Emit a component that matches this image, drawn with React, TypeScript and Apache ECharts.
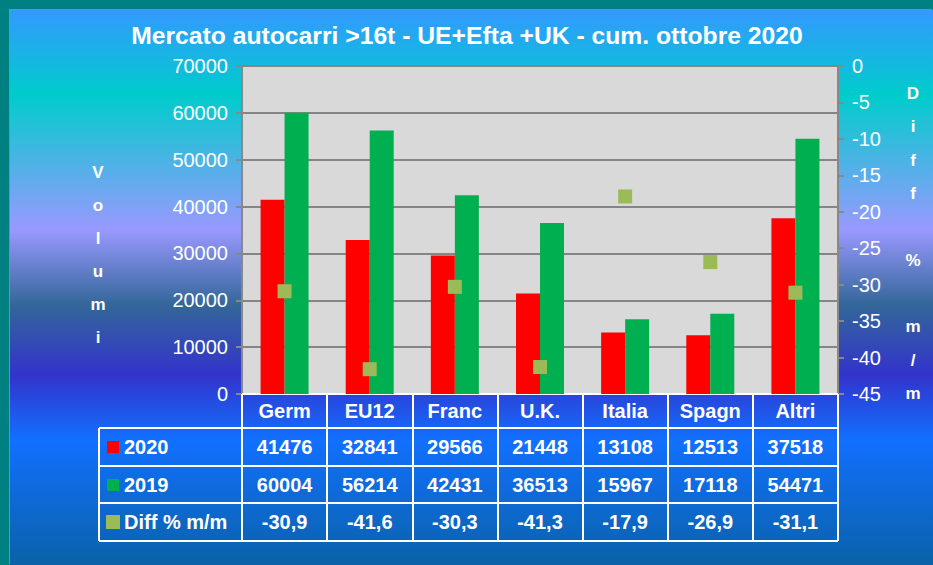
import React, { useEffect, useRef } from "react";
import * as echarts from "echarts";

const categories = ["Germ", "EU12", "Franc", "U.K.", "Italia", "Spagn", "Altri"];
const vol2020 = [41476, 32841, 29566, 21448, 13108, 12513, 37518];
const vol2019 = [60004, 56214, 42431, 36513, 15967, 17118, 54471];
const diffPct = [-30.9, -41.6, -30.3, -41.3, -17.9, -26.9, -31.1];
const seriesNames = ["2020", "2019", "Diff % m/m"];
const seriesColors = ["#ff0000", "#00b050", "#9bbb59"];

const W = 923;
const H = 555;
const GL = 232;
const GR = 95;
const GT = 56;
const GB = 171;
const FONT = "'Liberation Sans', Arial, sans-serif";

export default function App() {
  const ref = useRef<HTMLDivElement>(null);
  useEffect(() => {
    if (!ref.current) return;
    const chart = echarts.init(ref.current, null, { renderer: "svg" });
    const plotW = W - GL - GR;
    const cw = plotW / categories.length;
    const axisY = H - GB;
    const rowLines = [418, 456, 493, 531];
    const rowCenters = [437, 475, 512];
    const tableLeft = 89;
    const tableRight = W - GR;
    const fmt = [
      (v: number) => String(v),
      (v: number) => String(v),
      (v: number) => v.toFixed(1).replace(".", ","),
    ];
    const rows = [vol2020, vol2019, diffPct];

    const graphics: any[] = [];
    rowLines.forEach((y) => {
      graphics.push({
        type: "line",
        shape: { x1: tableLeft, y1: y, x2: tableRight, y2: y },
        style: { stroke: "#ffffff", lineWidth: 2 },
      });
    });
    graphics.push({
      type: "line",
      shape: { x1: tableLeft, y1: rowLines[0], x2: tableLeft, y2: rowLines[3] },
      style: { stroke: "#ffffff", lineWidth: 2 },
    });
    rows.forEach((arr, r) => {
      const sz = r === 2 ? 14 : 12;
      graphics.push({
        type: "rect",
        shape: { x: 97 + (r === 2 ? -1 : 0), y: rowCenters[r] - sz / 2, width: sz, height: sz },
        style: { fill: seriesColors[r] },
      });
      graphics.push({
        type: "text",
        x: 114,
        y: rowCenters[r],
        style: {
          text: seriesNames[r],
          fill: "#ffffff",
          font: `bold 20px ${FONT}`,
          textAlign: "left",
          textVerticalAlign: "middle",
        },
      });
      arr.forEach((v, i) => {
        graphics.push({
          type: "text",
          x: GL + (i + 0.5) * cw,
          y: rowCenters[r],
          style: {
            text: fmt[r](v),
            fill: "#ffffff",
            font: `bold 20px ${FONT}`,
            textAlign: "center",
            textVerticalAlign: "middle",
          },
        });
      });
    });
    graphics.push({
      type: "text",
      x: 88,
      y: 146,
      style: {
        text: "V\no\nl\nu\nm\ni",
        fill: "#ffffff",
        font: `bold 17px ${FONT}`,
        lineHeight: 33,
        textAlign: "center",
        textVerticalAlign: "top",
      },
    });
    graphics.push({
      type: "text",
      x: 903,
      y: 67,
      style: {
        text: "D\ni\nf\nf\n \n%\n \nm\n/\nm",
        fill: "#ffffff",
        font: `bold 17px ${FONT}`,
        lineHeight: 33.3,
        textAlign: "center",
        textVerticalAlign: "top",
      },
    });

    chart.setOption({
      animation: false,
      backgroundColor: "transparent",
      textStyle: { fontFamily: FONT },
      title: {
        text: "Mercato autocarri >16t - UE+Efta +UK - cum. ottobre 2020",
        left: 452,
        top: 8,
        textAlign: "center",
        textStyle: { color: "#ffffff", fontSize: 24.7, fontWeight: "bold", fontFamily: FONT },
      },
      grid: { left: GL, right: GR, top: GT, bottom: GB, show: true, backgroundColor: "#d9d9d9", borderWidth: 0 },
      xAxis: {
        type: "category",
        data: categories,
        boundaryGap: true,
        axisLine: { show: true, lineStyle: { color: "#ffffff", width: 2 } },
        axisTick: { show: true, length: rowLines[3] - axisY, lineStyle: { color: "#ffffff", width: 2 } },
        axisLabel: { color: "#ffffff", fontWeight: "bold", fontSize: 20, margin: 7, fontFamily: FONT },
        splitLine: { show: false },
      },
      yAxis: [
        {
          type: "value",
          min: 0,
          max: 70000,
          interval: 10000,
          axisLine: { show: true, lineStyle: { color: "#888888", width: 2 } },
          axisTick: { show: true, length: 6, lineStyle: { color: "#888888", width: 2 } },
          axisLabel: {
            color: "#ffffff",
            fontSize: 20,
            margin: 14,
            fontFamily: FONT,
            formatter: (v: number) => String(v),
          },
          splitLine: { show: true, lineStyle: { color: "#858585", width: 2 } },
        },
        {
          type: "value",
          min: -45,
          max: 0,
          interval: 5,
          position: "right",
          axisLine: { show: true, lineStyle: { color: "#888888", width: 2 } },
          axisTick: { show: true, length: 6, lineStyle: { color: "#888888", width: 2 } },
          axisLabel: { color: "#ffffff", fontSize: 20, margin: 14, fontFamily: FONT },
          splitLine: { show: false },
        },
      ],
      series: [
        {
          name: seriesNames[0],
          type: "bar",
          data: vol2020,
          barWidth: 24,
          barGap: "0%",
          itemStyle: { color: seriesColors[0] },
        },
        {
          name: seriesNames[1],
          type: "bar",
          data: vol2019,
          barWidth: 24,
          barGap: "0%",
          itemStyle: { color: seriesColors[1] },
        },
        {
          name: seriesNames[2],
          type: "scatter",
          yAxisIndex: 1,
          data: diffPct,
          symbol: "rect",
          symbolSize: 14,
          itemStyle: { color: seriesColors[2], opacity: 1 },
          z: 5,
        },
      ],
      graphic: { elements: graphics },
    });
    return () => chart.dispose();
  }, []);

  return (
    <div style={{ position: "fixed", left: 0, top: 0, width: 933, height: 565, background: "#008080", overflow: "hidden" }}>
      <div
        style={{
          position: "absolute",
          left: 10,
          top: 10,
          width: W,
          height: H,
          boxShadow: "-1px -1px 0 #8a8a8a",
          background:
            "linear-gradient(to bottom, #3399ff 0%, #00cccc 15.3%, #9999ff 39.6%, #336699 53.2%, #3333cc 65.8%, #1170ff 77.5%, #0a62a8 100%)",
        }}
      >
        <div ref={ref} style={{ width: W, height: H }} />
      </div>
    </div>
  );
}
